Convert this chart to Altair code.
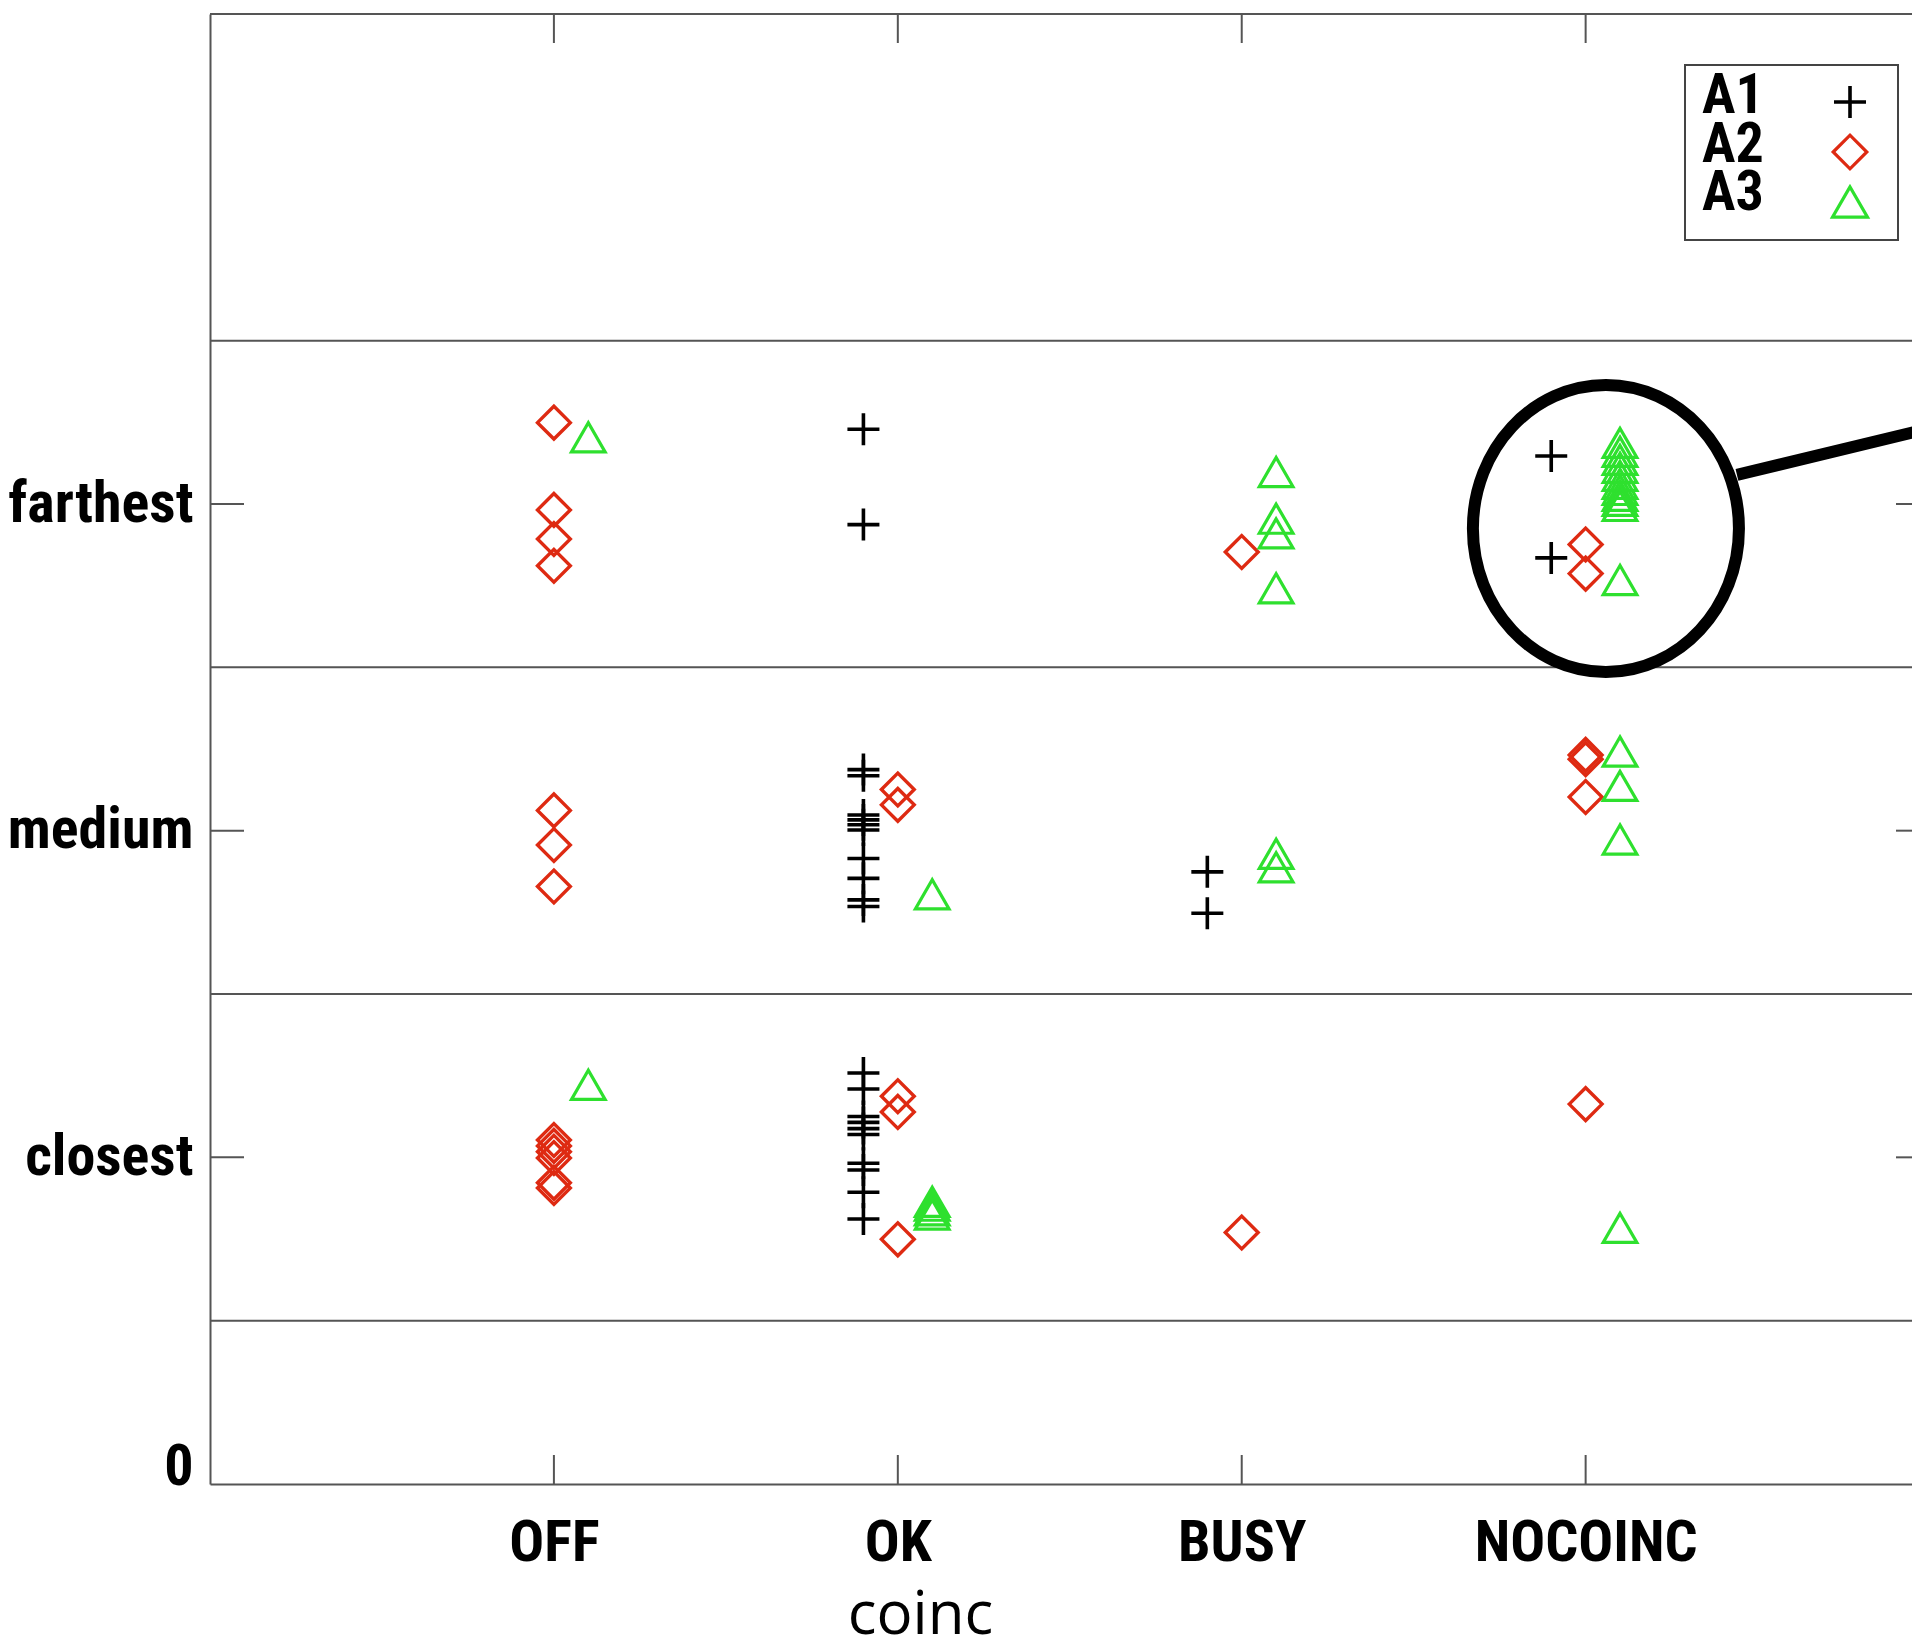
import altair as alt
import pandas as pd

# coinc categories sit at x = 1..4; distance levels at y = 1..3
categories = ["OFF", "OK", "BUSY", "NOCOINC"]
level_labels = ["0", "closest", "medium", "farthest"]
series = ["A1", "A2", "A3"]

# observed level per run, grouped by series and coinc category
a1_values = {
    "OFF": [],
    "OK": [3.229, 2.937,
           2.187, 2.168, 2.048, 2.033, 2.018, 2.002, 1.915, 1.854, 1.788, 1.768,
           1.258, 1.209, 1.125, 1.107, 1.088, 1.070, 0.982, 0.961, 0.893, 0.811],
    "BUSY": [1.874, 1.747],
    "NOCOINC": [3.147, 2.835],
}
a2_values = {
    "OFF": [3.249, 2.982, 2.893, 2.811,
            2.062, 1.956, 1.829,
            1.053, 1.035, 1.017, 0.998, 0.922, 0.906],
    "OK": [2.126, 2.079, 1.187, 1.139, 0.749],
    "BUSY": [2.853, 0.770],
    "NOCOINC": [2.876, 2.787, 2.232, 2.219, 2.103, 1.163],
}
a3_values = {
    "OFF": [3.204, 1.222],
    "OK": [1.805, 0.864, 0.852, 0.838, 0.825],
    "BUSY": [3.098, 2.955, 2.910, 2.742, 1.929, 1.888],
    "NOCOINC": [3.187, 3.160, 3.135, 3.111, 3.086, 3.062, 3.043, 3.025, 3.010, 2.994,
                2.767, 2.242, 2.137, 1.973, 0.784],
}
band_edges = [0.5, 1.5, 2.5, 3.5]

# highlighted group and its pointer line (data units)
highlight_center = {"x": 4.059, "y": 2.925}
pointer = {"x": [4.440, 5.05], "y": [3.089, 3.244]}

colors = ["#000000", "#de2a12", "#2ee02e"]
plus_path = "M-1,0H1M0,-1V1"
shapes = [plus_path, "diamond", "triangle-up"]
sizes = [1024, 1130, 1225]
stroke_widths = [3.6, 3.2, 3.2]

W, H = 1702, 1470
X_MAX = 4.949
Y_MAX = 4.5
FRAME = "#555555"
NARROW = "Roboto Condensed, Liberation Sans Narrow, Roboto, sans-serif"

rows = []
for k, (name, table) in enumerate(zip(series, [a1_values, a2_values, a3_values])):
    for c, cat in enumerate(categories):
        for v in table[cat]:
            rows.append({"series": name, "k": k, "coinc": cat, "cat": c + 1, "level": v})
df = pd.DataFrame(rows)

xscale = alt.Scale(domain=[0, X_MAX], nice=False, zero=False)
yscale = alt.Scale(domain=[0, Y_MAX], nice=False, zero=False)

label_list = "[''," + ",".join(f"'{c}'" for c in categories) + "]"
level_list = "[" + ",".join(f"'{l}'" for l in level_labels) + "]"

xaxis = alt.Axis(
    values=list(range(1, len(categories) + 1)),
    labelExpr=f"{label_list}[datum.value]",
    ticks=False, grid=False, domainColor=FRAME, domainWidth=2,
    labelFont=NARROW, labelFontSize=58, labelFontWeight="bold", labelColor="black",
    labelBaseline="alphabetic", labelPadding=76, labelFlush=False, labelOverlap=False,
    labelLimit=0,
    title="coinc", titleFont="Open Sans", titleFontSize=60, titleFontWeight="normal",
    titleColor="black", titleX=710, titleY=149, titleAlign="center",
    titleBaseline="alphabetic",
)
yaxis = alt.Axis(
    values=list(range(len(level_labels))),
    labelExpr=f"{level_list}[datum.value]",
    ticks=False, grid=False, domainColor=FRAME, domainWidth=2,
    labelFont=NARROW, labelFontSize=58, labelFontWeight="bold", labelColor="black",
    labelPadding=17, labelOverlap=False, labelLimit=0,
    labelBaseline={"condition": {"test": "datum.value == 0", "value": "alphabetic"},
                   "value": "middle"},
    title=None,
)

points = alt.Chart(df).transform_calculate(
    xpos="datum.cat + (datum.k - 1) * 0.1"
).mark_point(filled=False, opacity=1).encode(
    x=alt.X("xpos:Q", scale=xscale, axis=xaxis),
    y=alt.Y("level:Q", scale=yscale, axis=yaxis),
    color=alt.Color("series:N", scale=alt.Scale(domain=series, range=colors), legend=None),
    shape=alt.Shape("series:N", scale=alt.Scale(domain=series, range=shapes), legend=None),
    size=alt.Size("series:O", scale=alt.Scale(domain=series, range=sizes), legend=None),
    strokeWidth=alt.StrokeWidth("series:O",
                                scale=alt.Scale(domain=series, range=stroke_widths),
                                legend=None),
)

# horizontal separators between the distance levels
bands = alt.Chart(pd.DataFrame({"edge": band_edges})).mark_rule(
    color=FRAME, strokeWidth=2
).encode(y=alt.Y("edge:Q", scale=yscale), x=alt.value(0), x2=alt.value(W))

top_border = alt.Chart(pd.DataFrame({"edge": [Y_MAX]})).mark_rule(
    color=FRAME, strokeWidth=2
).encode(y=alt.Y("edge:Q", scale=yscale), x=alt.value(0), x2=alt.value(W))

# inward tick marks on all four sides
cat_df = pd.DataFrame({"cat": list(range(1, len(categories) + 1))})
lvl_df = pd.DataFrame({"lvl": list(range(1, len(level_labels)))})
tick_style = dict(color=FRAME, strokeWidth=2)
top_ticks = alt.Chart(cat_df).mark_rule(**tick_style).encode(
    x=alt.X("cat:Q", scale=xscale), y=alt.value(0), y2=alt.value(29))
bottom_ticks = alt.Chart(cat_df).mark_rule(**tick_style).encode(
    x=alt.X("cat:Q", scale=xscale), y=alt.value(H), y2=alt.value(H - 29))
left_ticks = alt.Chart(lvl_df).mark_rule(**tick_style).encode(
    y=alt.Y("lvl:Q", scale=yscale), x=alt.value(0), x2=alt.value(34))
right_ticks = alt.Chart(lvl_df).mark_rule(**tick_style).encode(
    y=alt.Y("lvl:Q", scale=yscale), x=alt.value(W - 16), x2=alt.value(W))

# ellipse around the NOCOINC / farthest group, with a pointer line
ellipse_path = "M-0.927,0A0.927,1,0,1,1,0.927,0A0.927,1,0,1,1,-0.927,0Z"
ring = alt.Chart(pd.DataFrame([highlight_center])).mark_point(
    shape=ellipse_path, size=287 ** 2, filled=False, color="black",
    strokeWidth=12, opacity=1
).encode(x=alt.X("x:Q", scale=xscale), y=alt.Y("y:Q", scale=yscale))

pointer_line = alt.Chart(pd.DataFrame(pointer)).mark_line(
    color="black", strokeWidth=12, clip=True
).encode(x=alt.X("x:Q", scale=xscale), y=alt.Y("y:Q", scale=yscale))

# legend box: label on the left, marker on the right
legend_layers = [
    alt.Chart(pd.DataFrame({"a": [0]})).mark_rect(
        fill="white", stroke="#444444", strokeWidth=2
    ).encode(x=alt.value(1475), x2=alt.value(1688), y=alt.value(51), y2=alt.value(226))
]
for i, name in enumerate(series):
    legend_layers.append(
        alt.Chart(pd.DataFrame({"label": [name]})).mark_text(
            font=NARROW, fontSize=56, fontWeight="bold", color="black",
            align="left", baseline="alphabetic"
        ).encode(text="label:N", x=alt.value(1492), y=alt.value(99 + 48.5 * i))
    )
    legend_layers.append(
        alt.Chart(pd.DataFrame({"label": [name]})).mark_point(
            shape=shapes[i], size=sizes[i], filled=False, color=colors[i],
            strokeWidth=stroke_widths[i], opacity=1
        ).encode(x=alt.value(1640), y=alt.value(88 + 50 * i))
    )

chart = alt.layer(
    bands, top_border, top_ticks, bottom_ticks, left_ticks, right_ticks,
    points, ring, pointer_line, *legend_layers
).properties(
    width=W, height=H,
    autosize=alt.AutoSizeParams(type="none"),
    padding={"left": 210, "top": 14, "right": 0, "bottom": 159},
    background="white",
).configure_view(stroke=None)

chart.save("out.html", embed_options={"renderer": "svg", "actions": False})
